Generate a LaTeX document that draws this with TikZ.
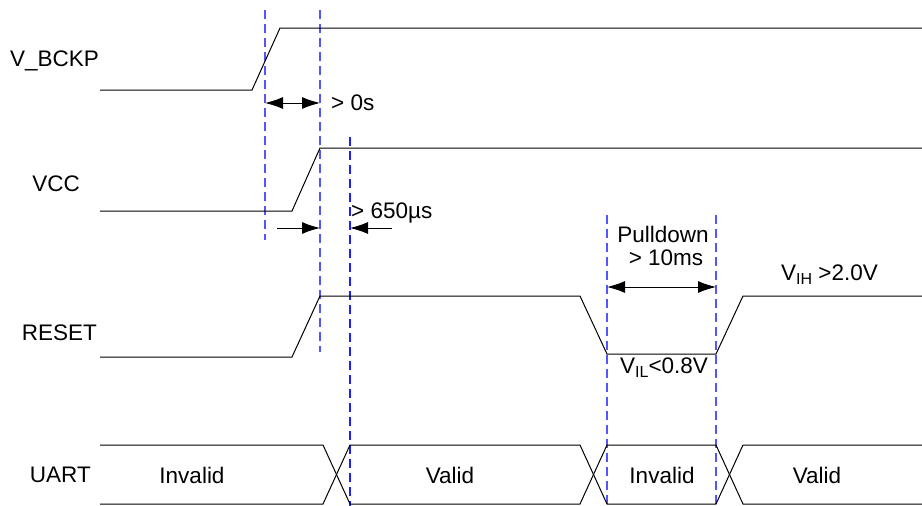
\documentclass[tikz,border=0pt]{standalone}
\usepackage{fontspec}
\setmainfont{Liberation Sans}
\usetikzlibrary{arrows.meta}
\definecolor{guideblue}{RGB}{85,85,255}
\definecolor{darkblue}{RGB}{30,30,255}
\begin{document}
\begin{tikzpicture}[x=1pt,y=-1pt,
  wave/.style={black, line width=1pt},
  guide/.style={guideblue, dash pattern=on 9pt off 5pt, line width=1.2pt},
  darkguide/.style={guide, darkblue},
  tip/.tip={Latex[length=18pt,width=12pt]},
  dim/.style={black, line width=1pt, tip-tip},
  dimr/.style={black, line width=1pt, -tip},
  lbl/.style={font=\fontsize{22.5}{26}\selectfont, inner sep=0pt, text depth=0pt}]
\useasboundingbox (0,0) rectangle (922,506);
\newcommand{\subtxt}[1]{\raisebox{-4pt}{\fontsize{16}{16}\selectfont #1}}
% signal names
\node[lbl, anchor=east] (nbckp) at (99,59) {V\_BCKP};
\node[lbl, anchor=east] (nvcc) at (80,184) {VCC};
\node[lbl, anchor=east] (nreset) at (97,333) {RESET};
\node[lbl, anchor=east] (nuart) at (91,475) {UART};
% guides
\draw[guide] (265,10) -- (265,240);
\draw[guide] (320,10) -- (320,352);
\draw[darkguide] (350,137) -- (350,506);
\draw[guide] (607,215) -- (607,506);
\draw[guide] (716,215) -- (716,506);
% waveforms
\draw[wave] (100,90) -- (252,90) -- (280,28) -- (922,28);
\draw[wave] (100,211) -- (292,211) -- (320,148) -- (922,148);
\draw[wave] (100,357) -- (292,357) -- (320,296) -- (580,296) -- (607,354) -- (716,354) -- (743,296) -- (922,296);
\draw[wave] (100,445) -- (323,445) -- (350,504) -- (580,504) -- (607,445) -- (716,445) -- (743,504) -- (922,504);
\draw[wave] (100,504) -- (323,504) -- (350,445) -- (580,445) -- (607,504) -- (716,504) -- (743,445) -- (922,445);
% dimension arrows
\coordinate (a1) at (265,103);
\coordinate (a2) at (320,103);
\draw[dim] (a1) -- (a2);
\node[lbl, anchor=west] (t0s) at (331,103) {> 0s};
\coordinate (b0) at (277,228);
\coordinate (b1) at (320,228);
\coordinate (c0) at (392,228);
\coordinate (c1) at (350,228);
\draw[dimr] (b0) -- (b1);
\draw[dimr] (c0) -- (c1);
\node[lbl, anchor=west] (t650) at (351,211) {> 650µs};
\coordinate (p1) at (607,287);
\coordinate (p2) at (716,287);
\draw[dim] (p1) -- (p2);
\node[lbl] (tpd) at (663,234) {Pulldown};
\node[lbl] (t10) at (666,258) {> 10ms};
\node[lbl, anchor=west] (tvih) at (781,273) {V\subtxt{IH} >2.0V};
\node[lbl, anchor=west] (tvil) at (620,366) {V\subtxt{IL}<0.8V};
% UART states
\node[lbl] (u1) at (192,475) {Invalid};
\node[lbl] (u2) at (450,475) {Valid};
\node[lbl] (u3) at (662,475) {Invalid};
\node[lbl] (u4) at (817,475) {Valid};
\end{tikzpicture}
\end{document}
